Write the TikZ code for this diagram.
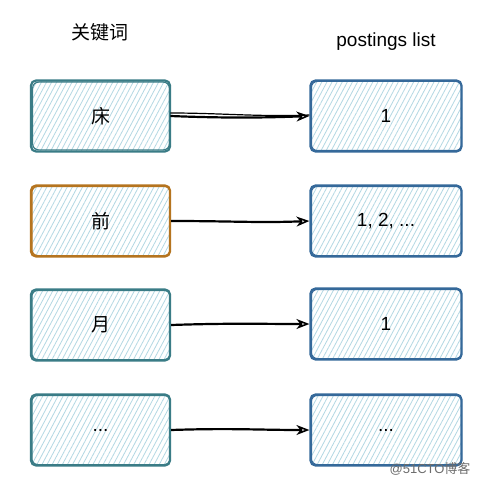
\documentclass[tikz,border=0pt]{standalone}
\usepackage{fontspec}
\setmainfont{Liberation Sans}
\newfontfamily\cjk{Noto Sans CJK SC}
\usetikzlibrary{patterns.meta,arrows.meta}
\definecolor{tealc}{HTML}{3A7C86}
\definecolor{orangec}{HTML}{B5741F}
\definecolor{bluec}{HTML}{35699A}
\definecolor{hatch}{HTML}{B3D8E3}
\tikzset{
  box/.style={minimum width=139pt, minimum height=71pt, rounded corners=5pt,
    line width=2.2pt, pattern={Lines[angle=62,distance=4.5pt,line width=0.8pt]},
    pattern color=hatch, font=\fontsize{19}{22}\selectfont, inner sep=0pt},
  rbox/.style={box, minimum width=151pt},
  sketch/.style={line width=1.2pt, rounded corners=6pt},
  conn/.style={line width=2.2pt, -{Stealth[open,length=13pt,width=10pt,inset=4pt,line width=1.6pt]}},
  head/.style={font=\fontsize{19}{22}\selectfont}
}
\begin{document}
\begin{tikzpicture}[x=1pt,y=-1pt]
\useasboundingbox[fill=white] (0,0) rectangle (477,486);
\node[head] (h1) at (100,32) {\cjk 关键词};
\node[head] (h2) at (386,42) {postings list};

\node[box,draw=tealc] (k1) at (100.5,116) {\cjk 床};
\node[box,draw=orangec] (k2) at (100.5,221) {\cjk 前};
\node[box,draw=tealc] (k3) at (100.5,325) {\cjk 月};
\node[box,draw=tealc] (k4) at (100.5,430) {...};

\node[rbox,draw=bluec] (p1) at (386,116) {1};
\node[rbox,draw=bluec] (p2) at (386,221) {1, 2, ...};
\node[rbox,draw=bluec] (p3) at (386,324) {1};
\node[rbox,draw=bluec] (p4) at (386,430) {...};

\foreach \n/\c in {k1/tealc,k2/orangec,k3/tealc,k4/tealc,p1/bluec,p2/bluec,p3/bluec,p4/bluec}{
  \draw[sketch,\c] ([shift={(2,-2)}]\n.south west) rectangle ([shift={(-1,2)}]\n.north east);
}

\draw[conn] (k1.east) .. controls +(50,2) and +(-50,2) .. (p1.west);
\draw[line width=1.2pt] ([yshift=3pt]k1.east) .. controls +(50,0) and +(-50,2) .. ([yshift=1pt]p1.west);
\draw[conn] (k2.east) .. controls +(60,0) and +(-50,2) .. (p2.west);
\draw[conn] (k3.east) .. controls +(60,-2) and +(-50,0) .. (p3.west);
\draw[conn] (k4.east) .. controls +(60,-2) and +(-50,0) .. (p4.west);

\node[font=\fontsize{13}{15}\selectfont, text=gray!85!black, anchor=east] (wm) at (474,469) {@51CTO\cjk 博客};
\end{tikzpicture}
\end{document}
